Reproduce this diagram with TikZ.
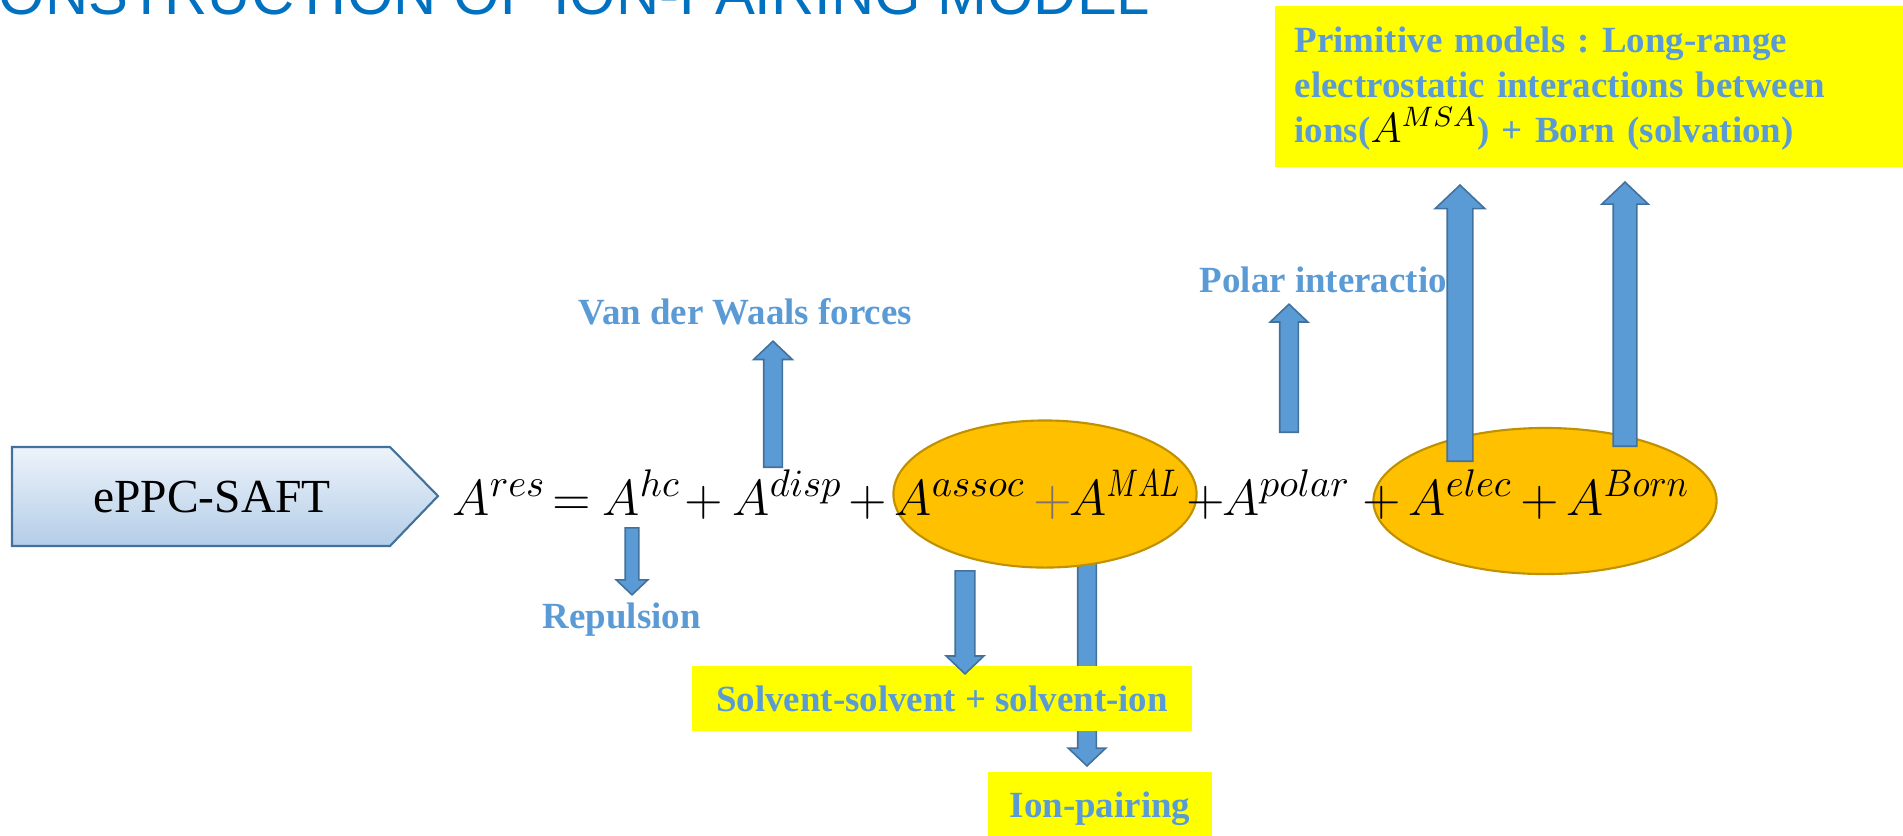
\documentclass[tikz,border=0pt]{standalone}
\usepackage{fontspec}
\setmainfont{Liberation Serif}
\newfontfamily\titlefont{Liberation Sans}
\usepackage{amsmath}
\usetikzlibrary{shapes.geometric,shapes.arrows}

\definecolor{titleblue}{RGB}{0,112,192}
\definecolor{lblblue}{RGB}{91,155,213}
\definecolor{arrowedge}{RGB}{65,113,156}
\definecolor{ellfill}{RGB}{255,192,0}
\definecolor{elledge}{RGB}{191,144,0}
\definecolor{hiyellow}{RGB}{255,255,0}
\definecolor{safttop}{RGB}{237,243,250}
\definecolor{saftbot}{RGB}{180,205,232}
\definecolor{plusgrey}{RGB}{127,111,111}
\newcommand{\Aterm}[1]{A^{\mbox{\fontsize{11}{13}\selectfont$#1$}}}
\newcommand{\Acaps}[2]{A^{\scalebox{#1}[1]{\fontsize{10.5}{12}\selectfont$#2$}}}

\tikzset{
  lbl/.style={anchor=base west, inner sep=0pt, text=lblblue, font=\fontsize{10.5}{12.7}\selectfont\bfseries},
  term/.style={anchor=base west, inner sep=0pt, font=\fontsize{13.5}{16}\selectfont},
  hilite/.style={fill=hiyellow, text=lblblue, font=\fontsize{10.5}{12.7}\selectfont\bfseries},
  blob/.style={ellipse, fill=ellfill, draw=elledge, line width=0.6pt, inner sep=0pt},
  blockarrow/.style={single arrow, fill=lblblue, draw=arrowedge, line width=0.45pt, inner xsep=0pt,
    single arrow tip angle=93, single arrow head indent=0pt},
  % length, half shaft width, head extend
  uparrow/.style n args={3}{blockarrow, rotate=90, anchor=tail, minimum height=#1, inner ysep=#2, single arrow head extend=#3},
  downarrow/.style n args={3}{blockarrow, rotate=-90, anchor=tail, minimum height=#1, inner ysep=#2, single arrow head extend=#3}
}

\begin{document}
\begin{tikzpicture}[x=0.01cm, y=-0.01cm]
  \useasboundingbox (0,0) rectangle (1903,835);
  % title, cut off by the top of the slide
  \node[anchor=base west, inner sep=0pt, text=titleblue, font=\titlefont\fontsize{17}{20}\selectfont] (title) at (-2,14) {ONSTRUCTION OF ION-PAIRING MODEL};
  \draw[draw=arrowedge, line width=0.6pt, top color=safttop, bottom color=saftbot] (12,447) -- (390,447) -- (438,496) -- (390,546) -- (12,546) -- cycle;
  \node[anchor=base, inner sep=0pt, font=\fontsize{13.5}{16}\selectfont] (saft) at (212,512) {ePPC-SAFT};
  \node[downarrow={2.25cm}{0.085cm}{0.095cm}] (ionarr) at (1087,540) {};
  \node[blob, minimum width=3.03cm, minimum height=1.47cm] (blobassoc) at (1045,494) {};
  \node[blob, minimum width=3.43cm, minimum height=1.46cm] (blobelec) at (1545,501) {};
  % the equation
  \node[term] (res) at (452,515) {$\Aterm{res}$};
  \node[term] (eq) at (552,515) {$=$};
  \node[term] (hc) at (602,515) {$\Aterm{hc}$};
  \node[term] (p1) at (684,515) {$+$};
  \node[term] (disp) at (732,515) {$\Aterm{disp}$};
  \node[term] (p2) at (848,515) {$+$};
  \node[term] (assoc) at (894,515) {$\Aterm{assoc}$};
  \node[term, text=plusgrey] (p3) at (1033,515) {$+$};
  \node[term] (mal) at (1069,515) {$\Acaps{0.75}{MAL}$};
  \node[term] (p4) at (1186,515) {$+$};
  \node[term] (polar) at (1222,515) {$\Aterm{polar}$};
  \node[term] (p5) at (1362,515) {$+$};
  \node[term] (elec) at (1408,515) {$\Aterm{elec}$};
  \node[term] (p6) at (1520,515) {$+$};
  \node[term] (born) at (1566,515) {$\Acaps{0.92}{Born}$};
  % labels
  \node[lbl] (vdw) at (578,324) {Van der Waals forces};
  \node[lbl] (polarlbl) at (1199,292) {Polar interaction};
  \node[lbl] (rep) at (542,628) {Repulsion};
  \node[hilite, minimum width=5cm, minimum height=0.65cm, inner sep=0pt] (solv) at (942,698.5) {Solvent-solvent + solvent-ion};
  \node[hilite, minimum width=2.24cm, minimum height=0.73cm, inner sep=0pt] (ionpair) at (1100,808.5) {Ion-pairing};
  \node[hilite, anchor=north west, text width=5.89cm, inner xsep=0.2cm, inner ysep=0.17cm, align=left] (prim) at (1274,5)
    {\rule{0pt}{0.3cm}Primitive models :\ Long-range\\ electrostatic interactions between\\ ions({\color{black}\fontsize{12}{12.7}\selectfont$A^{MSA}$}) + Born (solvation)};
  % block arrows
  \node[downarrow={1.03cm}{0.09cm}{0.09cm}] (solvarr) at (965,570) {};
  \node[uparrow={1.26cm}{0.085cm}{0.10cm}] (vdwarr) at (773,468) {};
  \node[downarrow={0.67cm}{0.06cm}{0.09cm}] (reparr) at (632,527) {};
  \node[uparrow={1.28cm}{0.085cm}{0.095cm}] (polararr) at (1289,433) {};
  \node[uparrow={2.76cm}{0.12cm}{0.12cm}] (elecarr) at (1460,462) {};
  \node[uparrow={2.64cm}{0.11cm}{0.115cm}] (bornarr) at (1625,447) {};
\end{tikzpicture}
\end{document}
